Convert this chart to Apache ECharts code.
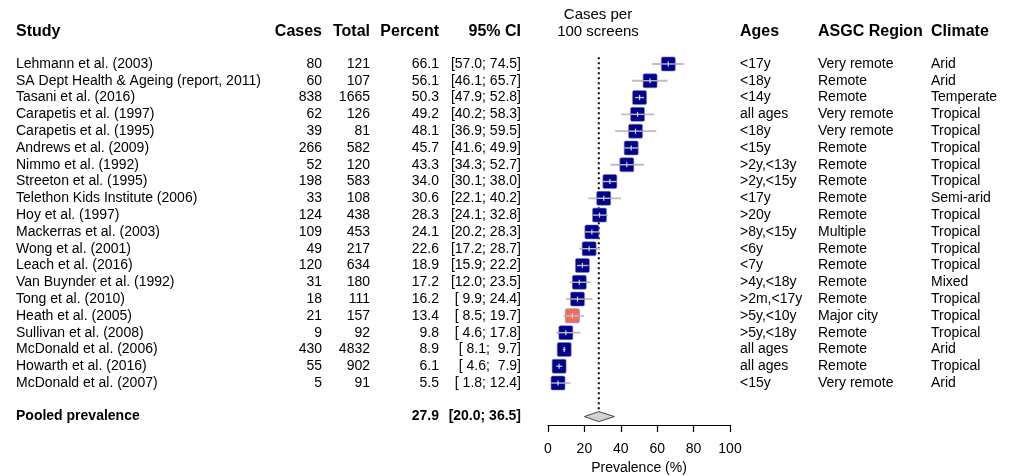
<!DOCTYPE html>
<html>
<head>
<meta charset="utf-8">
<title>Prevalence forest plot</title>
<script src="https://cdn.jsdelivr.net/npm/echarts@6/dist/echarts.min.js"></script>
<style>
  html, body { margin: 0; padding: 0; background: #fff; }
  #chart { width: 1013px; height: 476px; }
</style>
</head>
<body>
<div id="chart"></div>
<script>
var studies = ['Lehmann et al. (2003)', 'SA Dept Health & Ageing (report, 2011)', 'Tasani et al. (2016)',
    'Carapetis et al. (1997)', 'Carapetis et al. (1995)', 'Andrews et al. (2009)', 'Nimmo et al. (1992)',
    'Streeton et al. (1995)', 'Telethon Kids Institute (2006)', 'Hoy et al. (1997)', 'Mackerras et al. (2003)',
    'Wong et al. (2001)', 'Leach et al. (2016)', 'Van Buynder et al. (1992)', 'Tong et al. (2010)',
    'Heath et al. (2005)', 'Sullivan et al. (2008)', 'McDonald et al. (2006)', 'Howarth et al. (2016)',
    'McDonald et al. (2007)'];
var cases = [80, 60, 838, 62, 39, 266, 52, 198, 33, 124, 109, 49, 120, 31, 18, 21, 9, 430, 55, 5];
var totals = [121, 107, 1665, 126, 81, 582, 120, 583, 108, 438, 453, 217, 634, 180, 111, 157, 92, 4832, 902, 91];
var percent = [66.1, 56.1, 50.3, 49.2, 48.1, 45.7, 43.3, 34.0, 30.6, 28.3, 24.1, 22.6, 18.9, 17.2, 16.2, 13.4, 9.8, 8.9, 6.1, 5.5];
var ciLow = [57.0, 46.1, 47.9, 40.2, 36.9, 41.6, 34.3, 30.1, 22.1, 24.1, 20.2, 17.2, 15.9, 12.0, 9.9, 8.5, 4.6, 8.1, 4.6, 1.8];
var ciHigh = [74.5, 65.7, 52.8, 58.3, 59.5, 49.9, 52.7, 38.0, 40.2, 32.8, 28.3, 28.7, 22.2, 23.5, 24.4, 19.7, 17.8, 9.7, 7.9, 12.4];
var ages = ['<17y', '<18y', '<14y', 'all ages', '<18y', '<15y', '>2y,<13y', '>2y,<15y', '<17y', '>20y', '>8y,<15y',
    '<6y', '<7y', '>4y,<18y', '>2m,<17y', '>5y,<10y', '>5y,<18y', 'all ages', 'all ages', '<15y'];
var regions = ['Very remote', 'Remote', 'Remote', 'Very remote', 'Very remote', 'Remote', 'Remote', 'Remote', 'Remote',
    'Remote', 'Multiple', 'Remote', 'Remote', 'Remote', 'Remote', 'Major city', 'Remote', 'Remote', 'Remote', 'Very remote'];
var climates = ['Arid', 'Arid', 'Temperate', 'Tropical', 'Tropical', 'Tropical', 'Tropical', 'Tropical', 'Semi-arid',
    'Tropical', 'Tropical', 'Tropical', 'Tropical', 'Mixed', 'Tropical', 'Tropical', 'Tropical', 'Arid', 'Tropical', 'Arid'];
var pooledLabel = 'Pooled prevalence';
var pooledEst = 27.9;
var pooledLow = 20.0;
var pooledHigh = 36.5;
var xTicks = [0, 20, 40, 60, 80, 100];

var FONT = '"Liberation Sans", Arial, sans-serif';
var BODY = 14, HEAD = 16;
var pooledRow = studies.length + 1;

function fmt(v) {
    var s = v.toFixed(1);
    return s.length < 4 ? ' ' + s : s;
}

function txt(x, y, s, align, bold) {
    return {
        type: 'text',
        style: {
            x: x, y: y, text: s, fill: '#000',
            align: align, verticalAlign: 'middle',
            font: (bold ? 'bold ' : '') + BODY + 'px ' + FONT
        }
    };
}

function head(x, s, align) {
    return {
        type: 'text', x: x, y: 32,
        style: { text: s, align: align, verticalAlign: 'middle', font: 'bold ' + HEAD + 'px ' + FONT, fill: '#000' }
    };
}

var rows = studies.map(function(s, i) { return [0, i]; });

var chart = echarts.init(document.getElementById('chart'));

var option = {
    animation: false,
    backgroundColor: '#fff',
    grid: { left: 548, width: 182, top: 30.4, height: 394.6, outerBoundsMode: 'none', containLabel: false },
    xAxis: {
        type: 'value', min: 0, max: 100, interval: 20, position: 'bottom',
        axisLine: { show: true, onZero: false, lineStyle: { color: '#000', width: 1.2 } },
        axisTick: { show: true, length: 7, lineStyle: { color: '#000', width: 1.2 } },
        axisLabel: { color: '#000', fontSize: BODY, fontFamily: FONT, margin: 17,
            customValues: xTicks },
        splitLine: { show: false },
        name: 'Prevalence (%)', nameLocation: 'middle', nameGap: 35,
        nameTextStyle: { color: '#000', fontSize: BODY, fontFamily: FONT }
    },
    yAxis: {
        type: 'value', inverse: true, min: -2, max: 21.5, show: false
    },
    graphic: [
        head(16, 'Study', 'left'),
        head(322, 'Cases', 'right'),
        head(370, 'Total', 'right'),
        head(439, 'Percent', 'right'),
        head(521, '95% CI', 'right'),
        head(740, 'Ages', 'left'),
        head(818, 'ASGC Region', 'left'),
        head(931, 'Climate', 'left'),
        { type: 'text', x: 598, y: 15, style: { text: 'Cases per', align: 'center', verticalAlign: 'middle', font: '15px ' + FONT, fill: '#000' } },
        { type: 'text', x: 598, y: 32, style: { text: '100 screens', align: 'center', verticalAlign: 'middle', font: '15px ' + FONT, fill: '#000' } }
    ],
    series: [
        {
            // table columns
            type: 'custom',
            silent: true,
            data: rows,
            renderItem: function(params, api) {
                var i = params.dataIndex;
                var y = api.coord([0, i])[1];
                return {
                    type: 'group',
                    children: [
                        txt(16, y, studies[i], 'left'),
                        txt(322, y, String(cases[i]), 'right'),
                        txt(370, y, String(totals[i]), 'right'),
                        txt(439, y, percent[i].toFixed(1), 'right'),
                        txt(521, y, '[' + fmt(ciLow[i]) + '; ' + fmt(ciHigh[i]) + ']', 'right'),
                        txt(740, y, ages[i], 'left'),
                        txt(818, y, regions[i], 'left'),
                        txt(931, y, climates[i], 'left')
                    ]
                };
            }
        },
        {
            // pooled row text
            type: 'custom',
            silent: true,
            data: [[0, pooledRow]],
            renderItem: function(params, api) {
                var y = api.coord([0, pooledRow])[1];
                return {
                    type: 'group',
                    children: [
                        txt(16, y, pooledLabel, 'left', true),
                        txt(439, y, pooledEst.toFixed(1), 'right', true),
                        txt(521, y, '[' + fmt(pooledLow) + '; ' + fmt(pooledHigh) + ']', 'right', true)
                    ]
                };
            }
        },
        {
            // dotted reference line at pooled estimate
            type: 'custom',
            silent: true,
            data: [[pooledEst, 0]],
            renderItem: function(params, api) {
                var a = api.coord([pooledEst, -0.4]);
                var b = api.coord([pooledEst, pooledRow - 0.35]);
                return {
                    type: 'line',
                    shape: { x1: a[0], y1: a[1], x2: b[0], y2: b[1] },
                    style: { stroke: '#000', lineWidth: 2, lineDash: [2, 3] }
                };
            }
        },
        {
            // study boxes and confidence intervals
            type: 'custom',
            silent: true,
            data: percent.map(function(p, i) { return [p, i, ciLow[i], ciHigh[i]]; }),
            renderItem: function(params, api) {
                var i = params.dataIndex;
                var c = api.coord([api.value(0), api.value(1)]);
                var lo = api.coord([api.value(2), api.value(1)]);
                var hi = api.coord([api.value(3), api.value(1)]);
                var s = 14;
                var col = regions[i] === 'Major city' ? '#F36C5B' : '#00008B';
                return {
                    type: 'group',
                    children: [
                        { type: 'line', shape: { x1: lo[0], y1: c[1], x2: hi[0], y2: c[1] },
                          style: { stroke: '#BEBEBE', lineWidth: 1.8 } },
                        { type: 'rect', shape: { x: c[0] - s / 2, y: c[1] - s / 2, width: s, height: s, r: 1.5 },
                          style: { fill: col, stroke: '#8080c0', lineWidth: 0.6 } },
                        { type: 'line', shape: { x1: Math.max(lo[0], c[0] - s / 2), y1: c[1], x2: Math.min(hi[0], c[0] + s / 2), y2: c[1] },
                          style: { stroke: '#BEBEBE', lineWidth: 1.4 } },
                        { type: 'line', shape: { x1: c[0], y1: c[1] - 2.5, x2: c[0], y2: c[1] + 2.5 },
                          style: { stroke: '#D8D8D8', lineWidth: 1.2 } }
                    ]
                };
            }
        },
        {
            // pooled diamond
            type: 'custom',
            silent: true,
            data: [[pooledEst, pooledRow, pooledLow, pooledHigh]],
            renderItem: function(params, api) {
                var r = api.value(1);
                var l = api.coord([api.value(2), r]);
                var h = api.coord([api.value(3), r]);
                var c = api.coord([api.value(0), r]);
                return {
                    type: 'polygon',
                    shape: { points: [[l[0], c[1]], [c[0], c[1] - 5], [h[0], c[1]], [c[0], c[1] + 5]] },
                    style: { fill: '#D3D3D3', stroke: '#444', lineWidth: 1 }
                };
            }
        }
    ]
};

chart.setOption(option);
</script>
</body>
</html>
